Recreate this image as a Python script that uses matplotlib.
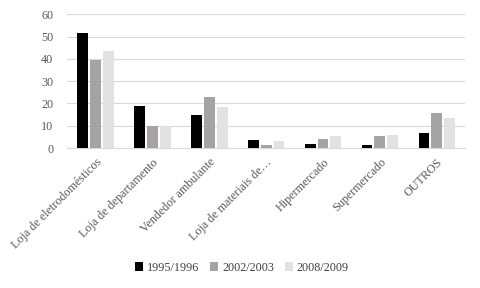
import matplotlib
matplotlib.use("Agg")
import matplotlib.pyplot as plt
import numpy as np

categories = ["Loja de eletrodomésticos", "Loja de departamento", "Vendedor ambulante",
              "Loja de materiais de…", "Hipermercado", "Supermercado", "OUTROS"]
series_names = ["1995/1996", "2002/2003", "2008/2009"]
s1995 = [51.5, 18.8, 14.7, 3.5, 2.0, 1.5, 6.6]
s2002 = [39.4, 10.1, 22.8, 1.5, 4.1, 5.6, 15.6]
s2008 = [43.5, 10.1, 18.3, 3.0, 5.3, 5.9, 13.4]
colors = ["#000000", "#a5a3a3", "#e2e2e2"]

plt.rcParams['font.family'] = ['Liberation Serif', 'DejaVu Serif']

fig = plt.figure(figsize=(4.8, 2.88), dpi=100)
ax = fig.add_axes([0.14, 0.486, 0.829, 0.464])

x = np.arange(len(categories))
w = 0.19
step = 0.225
for i, (vals, name, c) in enumerate(zip([s1995, s2002, s2008], series_names, colors)):
    ax.bar(x + (i - 1) * step, vals, w, color=c, label=name, zorder=3)

ax.set_xlim(-0.5, len(categories) - 0.5)
ax.set_ylim(0, 60)
ax.set_yticks(range(0, 61, 10))
ax.yaxis.grid(True, color="#d9d9d9", linewidth=0.8, zorder=0)
for s in ["top", "right", "left"]:
    ax.spines[s].set_visible(False)
ax.spines["bottom"].set_color("#d9d9d9")
ax.tick_params(axis="both", length=0, labelsize=8.7, labelcolor="#595959")
ax.tick_params(axis="y", pad=10)
ax.tick_params(axis="x", pad=6)
ax.set_xticks(x)
ax.set_xticklabels(categories, rotation=45, ha="right", rotation_mode="anchor")

fig.legend(loc="center", bbox_to_anchor=(0.504, 0.07), ncol=3, frameon=False,
           fontsize=8.7, handlelength=0.7, handleheight=0.7, handletextpad=0.3,
           columnspacing=0.9, labelcolor="#404040")

fig.savefig("out.png", dpi=100)
